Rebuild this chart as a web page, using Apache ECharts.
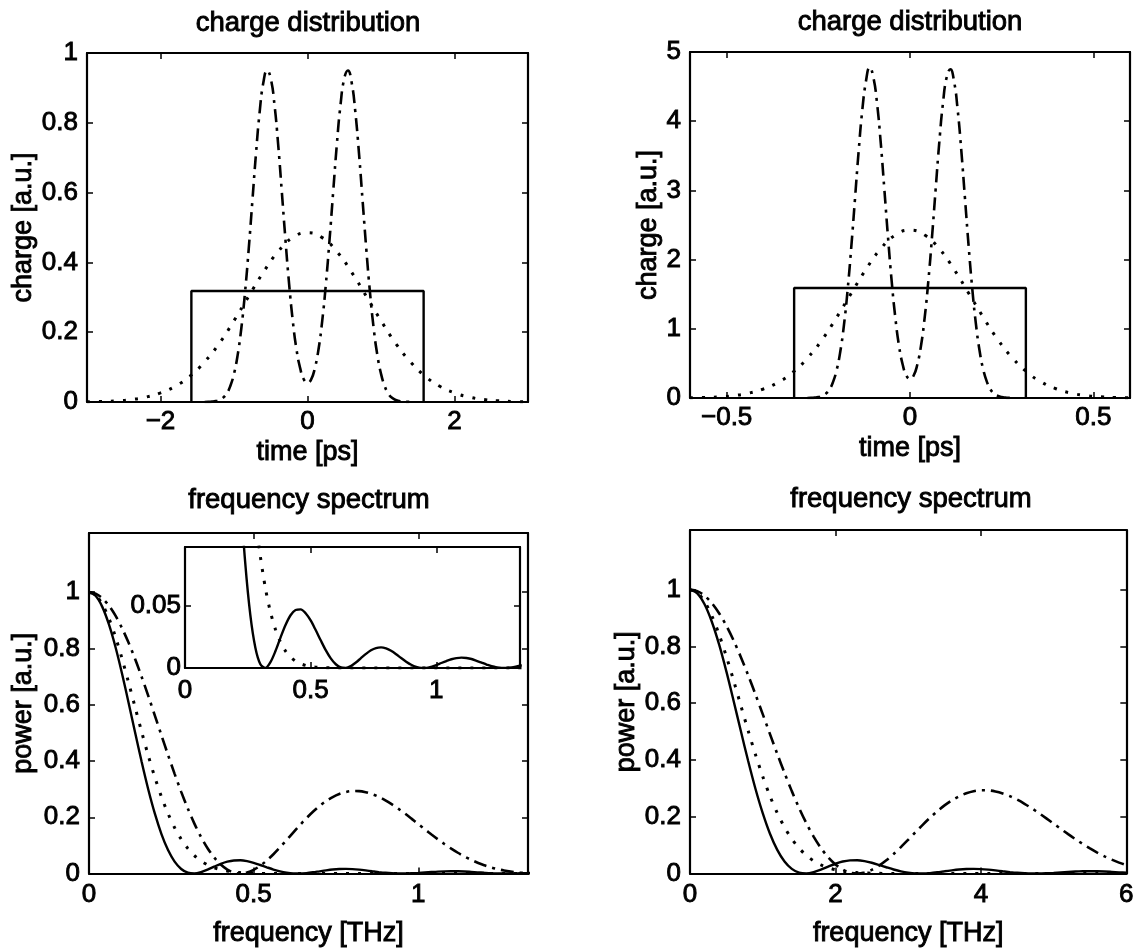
<!DOCTYPE html>
<html>
<head>
<meta charset="utf-8">
<script src="https://cdn.jsdelivr.net/npm/echarts@6/dist/echarts.min.js"></script>
<style>
html, body { margin: 0; padding: 0; background: #fff; }
#chart { width: 1137px; height: 948px; }
</style>
</head>
<body>
<div id="chart"></div>
<script>
// charge distribution, left panel (time in ps)
const timeA = [-3, -2.8, -2.6, -2.4, -2.2, -2, -1.8, -1.6, -1.4, -1.2, -1, -0.8, -0.6, -0.4, -0.2, 0,
    0.2, 0.4, 0.6, 0.8, 1, 1.2, 1.4, 1.6, 1.8, 2, 2.2, 2.4, 2.6, 2.8, 3];
const gaussA = [0.0006, 0.0015, 0.0034, 0.007, 0.014, 0.026, 0.045, 0.074, 0.115, 0.168, 0.233, 0.303, 0.372, 0.431, 0.471, 0.485,
    0.471, 0.431, 0.372, 0.303, 0.233, 0.168, 0.115, 0.074, 0.045, 0.026, 0.014, 0.007, 0.0034, 0.0015, 0.0006];
const timeA2 = [-1.4, -1.35, -1.3, -1.25, -1.2, -1.15, -1.1, -1.05, -1, -0.95, -0.9, -0.85, -0.8, -0.75, -0.7, -0.65,
    -0.6, -0.55, -0.5, -0.45, -0.4, -0.35, -0.3, -0.25, -0.2, -0.15, -0.1, -0.05, 0,
    0.05, 0.1, 0.15, 0.2, 0.25, 0.3, 0.35, 0.4, 0.45, 0.5, 0.55, 0.6, 0.65, 0.7, 0.75, 0.8, 0.85,
    0.9, 0.95, 1, 1.05, 1.1, 1.15, 1.2, 1.25, 1.3, 1.35, 1.4];
const pulseA = [0.0002, 0.0004, 0.0011, 0.0026, 0.006, 0.012, 0.024, 0.046, 0.081, 0.135, 0.212, 0.314, 0.438, 0.576, 0.714, 0.833,
    0.916, 0.950, 0.927, 0.853, 0.740, 0.604, 0.465, 0.338, 0.232, 0.151, 0.097, 0.065, 0.055,
    0.065, 0.097, 0.151, 0.232, 0.338, 0.465, 0.604, 0.740, 0.853, 0.927, 0.950, 0.916, 0.833, 0.714, 0.576, 0.438, 0.314,
    0.212, 0.135, 0.081, 0.046, 0.024, 0.012, 0.006, 0.0026, 0.0011, 0.0004, 0.0002];
const rectTA = [-1.58, -1.58, 1.58, 1.58];
const rectQA = [0, 0.318, 0.318, 0];

// charge distribution, right panel
const timeB = [-0.6, -0.56, -0.52, -0.48, -0.44, -0.4, -0.36, -0.32, -0.28, -0.24, -0.2, -0.16, -0.12, -0.08, -0.04, 0,
    0.04, 0.08, 0.12, 0.16, 0.2, 0.24, 0.28, 0.32, 0.36, 0.4, 0.44, 0.48, 0.52, 0.56, 0.6];
const gaussB = [0.003, 0.0075, 0.017, 0.035, 0.07, 0.13, 0.225, 0.37, 0.575, 0.84, 1.165, 1.515, 1.86, 2.155, 2.355, 2.425,
    2.355, 2.155, 1.86, 1.515, 1.165, 0.84, 0.575, 0.37, 0.225, 0.13, 0.07, 0.035, 0.017, 0.0075, 0.003];
const timeB2 = [-0.28, -0.27, -0.26, -0.25, -0.24, -0.23, -0.22, -0.21, -0.2, -0.19, -0.18, -0.17, -0.16, -0.15, -0.14, -0.13,
    -0.12, -0.11, -0.1, -0.09, -0.08, -0.07, -0.06, -0.05, -0.04, -0.03, -0.02, -0.01, 0,
    0.01, 0.02, 0.03, 0.04, 0.05, 0.06, 0.07, 0.08, 0.09, 0.1, 0.11, 0.12, 0.13, 0.14, 0.15, 0.16, 0.17,
    0.18, 0.19, 0.2, 0.21, 0.22, 0.23, 0.24, 0.25, 0.26, 0.27, 0.28];
const pulseB = [0.001, 0.002, 0.0055, 0.013, 0.03, 0.06, 0.12, 0.23, 0.405, 0.675, 1.06, 1.57, 2.19, 2.88, 3.57, 4.165,
    4.58, 4.78, 4.635, 4.265, 3.70, 3.02, 2.325, 1.69, 1.16, 0.755, 0.485, 0.325, 0.275,
    0.325, 0.485, 0.755, 1.16, 1.69, 2.325, 3.02, 3.70, 4.265, 4.635, 4.75, 4.58, 4.165, 3.57, 2.88, 2.19, 1.57,
    1.06, 0.675, 0.405, 0.23, 0.12, 0.06, 0.03, 0.013, 0.0055, 0.002, 0.001];
const rectTB = [-0.316, -0.316, 0.316, 0.316];
const rectQB = [0, 1.59, 1.59, 0];

// frequency spectrum (left panel in THz, right panel on a 5x wider axis)
const freqC = [0, 0.02, 0.04, 0.06, 0.08, 0.1, 0.12, 0.14, 0.16, 0.18, 0.2, 0.22, 0.24, 0.26, 0.28, 0.3, 0.32, 0.34,
    0.36, 0.38, 0.4, 0.42, 0.44, 0.46, 0.48, 0.5, 0.52, 0.54, 0.56, 0.58, 0.6, 0.62, 0.64, 0.66, 0.68, 0.7,
    0.72, 0.74, 0.76, 0.78, 0.8, 0.82, 0.84, 0.86, 0.88, 0.9, 0.92, 0.94, 0.96, 0.98, 1, 1.02, 1.04, 1.06,
    1.08, 1.1, 1.12, 1.14, 1.16, 1.18, 1.2, 1.22, 1.24, 1.26, 1.28, 1.3, 1.32, 1.34];
const freqD = [0, 0.1, 0.2, 0.3, 0.4, 0.5, 0.6, 0.7, 0.8, 0.9, 1, 1.1, 1.2, 1.3, 1.4, 1.5, 1.6, 1.7,
    1.8, 1.9, 2, 2.1, 2.2, 2.3, 2.4, 2.5, 2.6, 2.7, 2.8, 2.9, 3, 3.1, 3.2, 3.3, 3.4, 3.5,
    3.6, 3.7, 3.8, 3.9, 4, 4.1, 4.2, 4.3, 4.4, 4.5, 4.6, 4.7, 4.8, 4.9, 5, 5.1, 5.2, 5.3,
    5.4, 5.5, 5.6, 5.7, 5.8, 5.9, 6, 6.1, 6.2, 6.3, 6.4, 6.5, 6.6, 6.7];
const powRect = [1, 0.9869, 0.9484, 0.8869, 0.8069, 0.7120, 0.6080, 0.5010, 0.3963, 0.2988, 0.2128, 0.1403, 0.0834, 0.0424,
    0.0163, 0.0030, 0.0001, 0.0047, 0.0136, 0.0244, 0.0345, 0.0423, 0.0465, 0.0470, 0.0439, 0.0381, 0.0304, 0.0222,
    0.0143, 0.0077, 0.0030, 0.0004, 0.0001, 0.0016, 0.0044, 0.0079, 0.0113, 0.0142, 0.0160, 0.0165, 0.0157, 0.0138,
    0.0111, 0.0080, 0.0051, 0.0026, 0.0009, 0.0001, 0.0001, 0.0009, 0.0023, 0.0040, 0.0056, 0.0070, 0.0079, 0.0083,
    0.0080, 0.0072, 0.0058, 0.0043, 0.0028, 0.0014, 0.0005, 0.0001, 0.0001, 0.0005, 0.0013, 0.0022];
const powGauss = [1, 0.9893, 0.9580, 0.9079, 0.8422, 0.7646, 0.6794, 0.5909, 0.5030, 0.4191, 0.3418, 0.2728, 0.2131, 0.1629,
    0.1219, 0.0893, 0.0640, 0.0449, 0.0309, 0.0207, 0.0136, 0.0088, 0.0055, 0.0034, 0.0021, 0.0012, 0.0007, 0.0004,
    0.0002, 0.0001, 0.0001, 0, 0, 0, 0, 0, 0, 0, 0, 0, 0, 0, 0, 0, 0, 0, 0, 0, 0, 0, 0, 0, 0, 0, 0, 0,
    0, 0, 0, 0, 0, 0, 0, 0, 0, 0, 0, 0];
const powPulse = [1, 0.9947, 0.9787, 0.9527, 0.9170, 0.8727, 0.8206, 0.7621, 0.6985, 0.6311, 0.5614, 0.4911, 0.4216, 0.3542,
    0.2903, 0.2311, 0.1775, 0.1303, 0.0901, 0.0572, 0.0320, 0.0142, 0.0030, 0.0000, 0.0036, 0.0131, 0.0277, 0.0466,
    0.0687, 0.0932, 0.1191, 0.1455, 0.1716, 0.1965, 0.2196, 0.2402, 0.2577, 0.2719, 0.2826, 0.2898, 0.2932, 0.2929,
    0.2891, 0.2822, 0.2725, 0.2602, 0.2458, 0.2298, 0.2125, 0.1943, 0.1758, 0.1571, 0.1388, 0.1211, 0.1043, 0.0885,
    0.0739, 0.0607, 0.0489, 0.0385, 0.0295, 0.0220, 0.0158, 0.0108, 0.0069, 0.0040, 0.0020, 0.0008];

// tick positions
const ticksTA = [-2, 0, 2];
const ticksTB = [-0.5, 0, 0.5];
const ticksFC = [0, 0.5, 1];
const ticksFD = [0, 2, 4, 6];
const ticksQA = [0, 0.2, 0.4, 0.6, 0.8, 1];
const ticksQB = [0, 1, 2, 3, 4, 5];
const ticksP = [0, 0.2, 0.4, 0.6, 0.8, 1];
const ticksInset = [0, 0.05];

const INK = '#000';
const FONT = '"Liberation Sans", Arial, sans-serif';
const FS = 26;

function pair(xs, ys) {
    return xs.map((x, i) => [x, ys[i]]);
}

function fmt(v) {
    return v < 0 ? '\u2212' + (-v) : String(v);
}

const tickStyle = { show: true, inside: true, length: 6, lineStyle: { color: INK, width: 1.5 } };
const lineBox = { show: true, onZero: false, lineStyle: { color: INK, width: 2.2 } };
const labelText = { color: INK, fontFamily: FONT, fontSize: FS, textBorderColor: INK, textBorderWidth: 0.9 };
const nameText = Object.assign({}, labelText, { fontSize: 27 });

// one grid gets a bottom/top x axis pair and a left/right y axis pair (MATLAB box)
function axesFor(gi, xr, yr, z) {
    const xs = [], ys = [];
    xs.push({
        type: 'value', gridIndex: gi, position: 'bottom', min: xr.min, max: xr.max, z: z,
        name: xr.name, nameLocation: 'middle', nameGap: xr.gap,
        nameTextStyle: nameText,
        axisLine: lineBox,
        axisTick: Object.assign({ customValues: xr.ticks }, tickStyle),
        axisLabel: Object.assign({ customValues: xr.ticks, margin: xr.margin || 7, formatter: fmt }, labelText),
        splitLine: { show: false }
    });
    xs.push({
        type: 'value', gridIndex: gi, position: 'top', min: xr.min, max: xr.max, z: z,
        axisLine: lineBox,
        axisTick: Object.assign({ customValues: xr.ticks }, tickStyle),
        axisLabel: { show: false },
        splitLine: { show: false }
    });
    ys.push({
        type: 'value', gridIndex: gi, position: 'left', min: yr.min, max: yr.max, z: z,
        name: yr.name, nameLocation: 'middle', nameGap: yr.gap, nameRotate: 90,
        nameTextStyle: nameText,
        axisLine: lineBox,
        axisTick: Object.assign({ customValues: yr.ticks }, tickStyle),
        axisLabel: Object.assign({ customValues: yr.ticks, margin: yr.margin || 9, formatter: fmt }, labelText),
        splitLine: { show: false }
    });
    ys.push({
        type: 'value', gridIndex: gi, position: 'right', min: yr.min, max: yr.max, z: z,
        axisLine: lineBox,
        axisTick: Object.assign({ customValues: yr.ticks }, tickStyle),
        axisLabel: { show: false },
        splitLine: { show: false }
    });
    return { xs, ys };
}

const solid = { color: INK, width: 2.4 };
const dotted = { color: INK, width: 3, type: [3, 9] };
const dashDot = { color: INK, width: 2.6, type: [13, 6, 3, 6] };

function curve(gi, xs, ys, style, smooth, z) {
    return {
        type: 'line', xAxisIndex: gi * 2, yAxisIndex: gi * 2, data: pair(xs, ys),
        symbol: 'none', smooth: smooth, lineStyle: style, z: z || 2, silent: true
    };
}

const panels = [
    axesFor(0, { min: -3, max: 3, ticks: ticksTA, name: 'time [ps]', gap: 37 },
        { min: 0, max: 1, ticks: ticksQA, name: 'charge [a.u.]', gap: 48 }, 0),
    axesFor(1, { min: -0.6, max: 0.6, ticks: ticksTB, name: 'time [ps]', gap: 37 },
        { min: 0, max: 5, ticks: ticksQB, name: 'charge [a.u.]', gap: 28 }, 0),
    axesFor(2, { min: 0, max: 1.333, ticks: ticksFC, name: 'frequency [THz]', gap: 46, margin: 8 },
        { min: 0, max: 1.21, ticks: ticksP, name: 'power [a.u.]', gap: 52 }, 0),
    axesFor(3, { min: 0, max: 6, ticks: ticksFD, name: 'frequency [THz]', gap: 46, margin: 8 },
        { min: 0, max: 1.21, ticks: ticksP, name: 'power [a.u.]', gap: 44 }, 0),
    axesFor(4, { min: 0, max: 1.333, ticks: ticksFC, gap: 0, margin: 10 },
        { min: 0, max: 0.097, ticks: ticksInset, gap: 0, margin: 4 }, 11)
];

const titleStyle = {
    align: 'center', verticalAlign: 'middle', fill: INK, stroke: INK, lineWidth: 0.9,
    font: '27.5px "Liberation Sans", Arial, sans-serif'
};

const option = {
    backgroundColor: '#fff',
    animation: false,
    grid: [
        { left: 87, top: 53, width: 441, height: 349 },
        { left: 690, top: 52, width: 440, height: 346 },
        { left: 89, top: 533, width: 439, height: 344 },
        { left: 690, top: 530, width: 442, height: 344 },
        // inset
        { left: 185, top: 547, width: 335, height: 121, show: true, backgroundColor: '#fff', borderWidth: 0, z: 10 }
    ],
    xAxis: [].concat(...panels.map(p => p.xs)),
    yAxis: [].concat(...panels.map(p => p.ys)),
    graphic: [
        { type: 'text', x: 308, y: 23, style: Object.assign({ text: 'charge distribution' }, titleStyle) },
        { type: 'text', x: 910, y: 22, style: Object.assign({ text: 'charge distribution' }, titleStyle) },
        { type: 'text', x: 309, y: 500, style: Object.assign({ text: 'frequency spectrum' }, titleStyle) },
        { type: 'text', x: 911, y: 499, style: Object.assign({ text: 'frequency spectrum' }, titleStyle) }
    ],
    series: [
        curve(0, rectTA, rectQA, solid, false),
        curve(0, timeA, gaussA, dotted, true),
        curve(0, timeA2, pulseA, dashDot, true),

        curve(1, rectTB, rectQB, solid, false),
        curve(1, timeB, gaussB, dotted, true),
        curve(1, timeB2, pulseB, dashDot, true),

        curve(2, freqC, powRect, solid, 0.3),
        curve(2, freqC, powGauss, dotted, 0.3),
        curve(2, freqC, powPulse, dashDot, 0.3),

        curve(3, freqD, powRect, solid, 0.3),
        curve(3, freqD, powGauss, dotted, 0.3),
        curve(3, freqD, powPulse, dashDot, 0.3),

        // inset: zoom on the small side lobes
        curve(4, freqC, powRect, solid, 0.3, 12),
        curve(4, freqC, powGauss, dotted, 0.3, 12)
    ]
};

const chart = echarts.init(document.getElementById('chart'));
chart.setOption(option);
</script>
</body>
</html>
